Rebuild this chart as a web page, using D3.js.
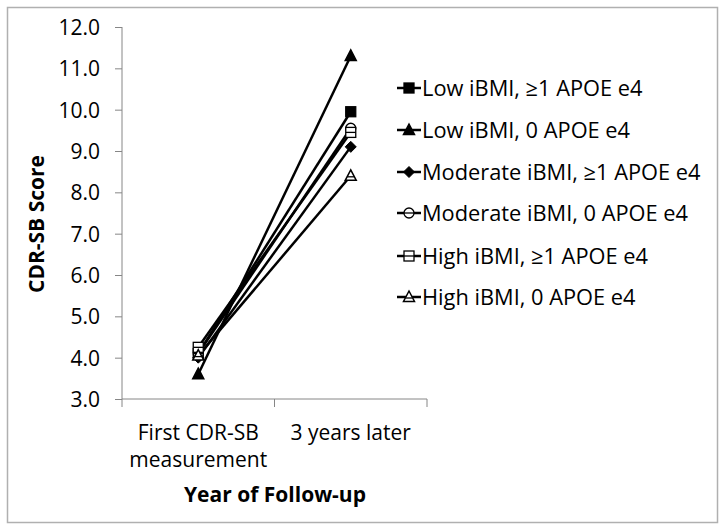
<!DOCTYPE html>
<html><head><meta charset="utf-8">
<script src="https://cdn.jsdelivr.net/npm/d3@7"></script>
<style>body{margin:0;background:#fff}</style>
</head><body>
<script>
const categories = ["First CDR-SB|measurement", "3 years later"];
const seriesNames = ["Low iBMI, ≥1 APOE e4","Low iBMI, 0 APOE e4","Moderate iBMI, ≥1 APOE e4","Moderate iBMI, 0 APOE e4","High iBMI, ≥1 APOE e4","High iBMI, 0 APOE e4"];
const markers = ["squareFilled","triangleFilled","diamondFilled","circleOpen","squareOpen","triangleOpen"];
const lowAPOE = [4.1, 9.95];
const low0 = [3.6, 11.3];
const modAPOE = [4.0, 9.1];
const mod0 = [4.1, 9.55];
const highAPOE = [4.25, 9.45];
const high0 = [4.05, 8.4];
const yTicks = [3,4,5,6,7,8,9,10,11,12];
const seriesValues = [lowAPOE, low0, modAPOE, mod0, highAPOE, high0];

const W = 725, H = 528;
const svg = d3.select("body").append("svg").attr("width", W).attr("height", H);
const font = "'Open Sans', sans-serif";
const fs = 21;
const fsLeg = 21.8;
svg.append("rect").attr("x",7.5).attr("y",7.5).attr("width",710).attr("height",515)
  .attr("fill","#fff").attr("stroke","#b0b0b0").attr("stroke-width",1.5);

const x = d3.scaleBand().domain(categories).range([122, 427]);
const y = d3.scaleLinear().domain([3, 12]).range([399, 27]);
const axisColor = "#868686";

// y axis
const ya = svg.append("g").attr("transform","translate(122,0)")
  .call(d3.axisLeft(y).tickValues(yTicks).tickSize(7).tickFormat(d3.format(".1f")));
ya.select(".domain").attr("stroke",axisColor).attr("d","M0,27V399");
ya.selectAll(".tick line").attr("stroke",axisColor);
ya.selectAll(".tick text").attr("font-family",font).attr("font-size",fs).attr("fill","#000").attr("x",-22).attr("dy","0.36em");

// x axis
const xa = svg.append("g").attr("transform","translate(0,399)");
xa.append("line").attr("x1",122).attr("x2",427).attr("stroke",axisColor);
const bounds = [122, 122 + x.bandwidth(), 427];
bounds.forEach(b => xa.append("line").attr("x1",b).attr("x2",b).attr("y1",0).attr("y2",8).attr("stroke",axisColor));
categories.forEach(c => {
  const lines = c.split("|");
  lines.forEach((t,i) => {
    svg.append("text").attr("x", x(c) + x.bandwidth()/2).attr("y", 440 + i*27)
      .attr("text-anchor","middle").attr("font-family",font).attr("font-size",fs).text(t);
  });
});

// titles
svg.append("text").attr("x",275).attr("y",502).attr("text-anchor","middle")
  .attr("font-family",font).attr("font-weight","bold").attr("font-size",fs).text("Year of Follow-up");
svg.append("text").attr("transform","translate(44,224) rotate(-90)").attr("text-anchor","middle")
  .attr("font-family",font).attr("font-weight","bold").attr("font-size",fs).text("CDR-SB Score");

function drawMarker(g, type, cx, cy, s) {
  const filled = type.endsWith("Filled");
  const fill = filled ? "#000" : "#fff";
  if (type.startsWith("square")) {
    g.append("rect").attr("x",cx-s/2).attr("y",cy-s/2).attr("width",s).attr("height",s)
      .attr("fill",fill).attr("stroke","#000").attr("stroke-width",1.3);
    if (!filled) g.append("line").attr("x1",cx-s/2).attr("x2",cx+s/2).attr("y1",cy).attr("y2",cy).attr("stroke","#000").attr("stroke-width",1.3);
  } else if (type.startsWith("triangle")) {
    const h = s*1.0;
    g.append("path").attr("d",`M${cx},${cy-h*0.6}L${cx+s*0.55},${cy+h*0.45}L${cx-s*0.55},${cy+h*0.45}Z`)
      .attr("fill",fill).attr("stroke","#000").attr("stroke-width",1.5);
    if (!filled) g.append("line").attr("x1",cx-s*0.35).attr("x2",cx+s*0.35).attr("y1",cy+h*0.1).attr("y2",cy+h*0.1).attr("stroke","#000").attr("stroke-width",1.3);
  } else if (type.startsWith("diamond")) {
    g.append("path").attr("d",`M${cx},${cy-s*0.55}L${cx+s*0.55},${cy}L${cx},${cy+s*0.55}L${cx-s*0.55},${cy}Z`)
      .attr("fill",fill).attr("stroke","#000");
  } else if (type.startsWith("circle")) {
    g.append("circle").attr("cx",cx).attr("cy",cy).attr("r",s/2).attr("fill",fill).attr("stroke","#000").attr("stroke-width",1.3);
    g.append("line").attr("x1",cx-s/2).attr("x2",cx+s/2).attr("y1",cy).attr("y2",cy).attr("stroke","#000").attr("stroke-width",1.3);
  }
}

const line = d3.line().x((d,i) => x(categories[i]) + x.bandwidth()/2).y(d => y(d));
const plot = svg.append("g");
seriesValues.forEach((vals, si) => {
  plot.append("path").datum(vals).attr("d", line).attr("fill","none").attr("stroke","#000").attr("stroke-width",2.5);
});
seriesValues.forEach((vals, si) => {
  vals.forEach((v,i) => drawMarker(plot, markers[si], x(categories[i]) + x.bandwidth()/2, y(v), 10));
});

// legend
const legY = [88,130,172,213,256,297];
seriesNames.forEach((n, i) => {
  const g = svg.append("g");
  g.append("line").attr("x1",397).attr("x2",421).attr("y1",legY[i]).attr("y2",legY[i]).attr("stroke","#000").attr("stroke-width",2.5);
  drawMarker(g, markers[i], 409, legY[i], 10);
  g.append("text").attr("x",422).attr("y",legY[i]).attr("dy","0.35em").attr("font-family",font).attr("font-size",fsLeg).text(n);
});
</script>
</body></html>
